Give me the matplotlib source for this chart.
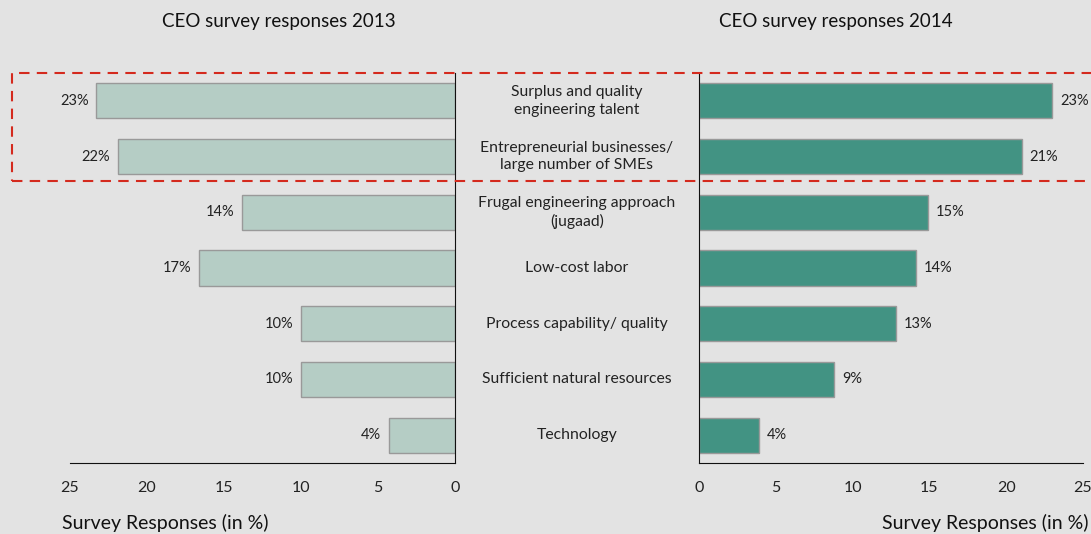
import matplotlib.pyplot as plt
import matplotlib.transforms as mtransforms
from matplotlib.patches import Rectangle

plt.rcParams['font.family'] = ['Lato', 'DejaVu Sans']

categories = ['Surplus and quality\nengineering talent',
              'Entrepreneurial businesses/\nlarge number of SMEs',
              'Frugal engineering approach\n(jugaad)',
              'Low-cost labor',
              'Process capability/ quality',
              'Sufficient natural resources',
              'Technology']
resp_2013 = [23.3, 21.9, 13.8, 16.6, 10.0, 10.0, 4.3]
resp_2014 = [23.0, 21.0, 14.9, 14.1, 12.8, 8.8, 3.9]
ticks = [0, 5, 10, 15, 20, 25]

bg = '#e3e3e3'
W, H = 1091, 534
fig = plt.figure(figsize=(W/100, H/100), dpi=100, facecolor=bg)

ax1 = fig.add_axes([70/W, 1-463/H, 385/W, 390/H], facecolor=bg)
ax2 = fig.add_axes([699/W, 1-463/H, 384/W, 390/H], facecolor=bg)

y = list(range(len(categories)))

ax1.barh(y, resp_2013, height=0.63, color='#b5cdc5', edgecolor='#999999', linewidth=1)
ax2.barh(y, resp_2014, height=0.63, color='#429383', edgecolor='#999999', linewidth=1)

for ax in (ax1, ax2):
    ax.set_ylim(len(categories)-0.5, -0.5)
    ax.set_xticks(ticks)
    ax.set_yticks([])
    ax.tick_params(axis='x', length=0, pad=13, labelsize=11.5, colors='#222222')
    ax.spines['top'].set_visible(False)
    ax.spines['bottom'].set_color('#111111')

ax1.set_xlim(25, 0)
ax1.spines['left'].set_visible(False)
ax1.spines['right'].set_color('#111111')
ax2.set_xlim(0, 25)
ax2.spines['right'].set_visible(False)
ax2.spines['left'].set_color('#111111')

for yi, v in zip(y, resp_2013):
    ax1.text(v + 0.5, yi, f'{v:.0f}%', ha='right', va='center', fontsize=10.5, color='#222222')
for yi, v in zip(y, resp_2014):
    ax2.text(v + 0.5, yi, f'{v:.0f}%', ha='left', va='center', fontsize=10.5, color='#222222')

# category names sit in the gap between the two panels
trans = mtransforms.blended_transform_factory(fig.transFigure, ax2.transData)
for yi, c in zip(y, categories):
    ax2.text(577/W, yi, c, transform=trans, ha='center', va='center',
             fontsize=11.3, color='#222222', linespacing=1.3)

fig.text(279/W, 1-22/H, 'CEO survey responses 2013', ha='center', va='center', fontsize=13.5, color='#111111')
fig.text(836/W, 1-22/H, 'CEO survey responses 2014', ha='center', va='center', fontsize=13.5, color='#111111')
fig.text(62/W, 1-523/H, 'Survey Responses (in %)', ha='left', va='center', fontsize=14, color='#111111')
fig.text(1089/W, 1-523/H, 'Survey Responses (in %)', ha='right', va='center', fontsize=14, color='#111111')

# highlight box around the top two drivers
box = Rectangle((12/W, 1-181/H), 1.0, 108/H, transform=fig.transFigure,
                fill=False, edgecolor='#d42a1e', linewidth=1.5, linestyle=(0, (5, 3.5)),
                clip_on=False)
fig.patches.append(box)

fig.savefig('out.png', dpi=100, facecolor=bg)
